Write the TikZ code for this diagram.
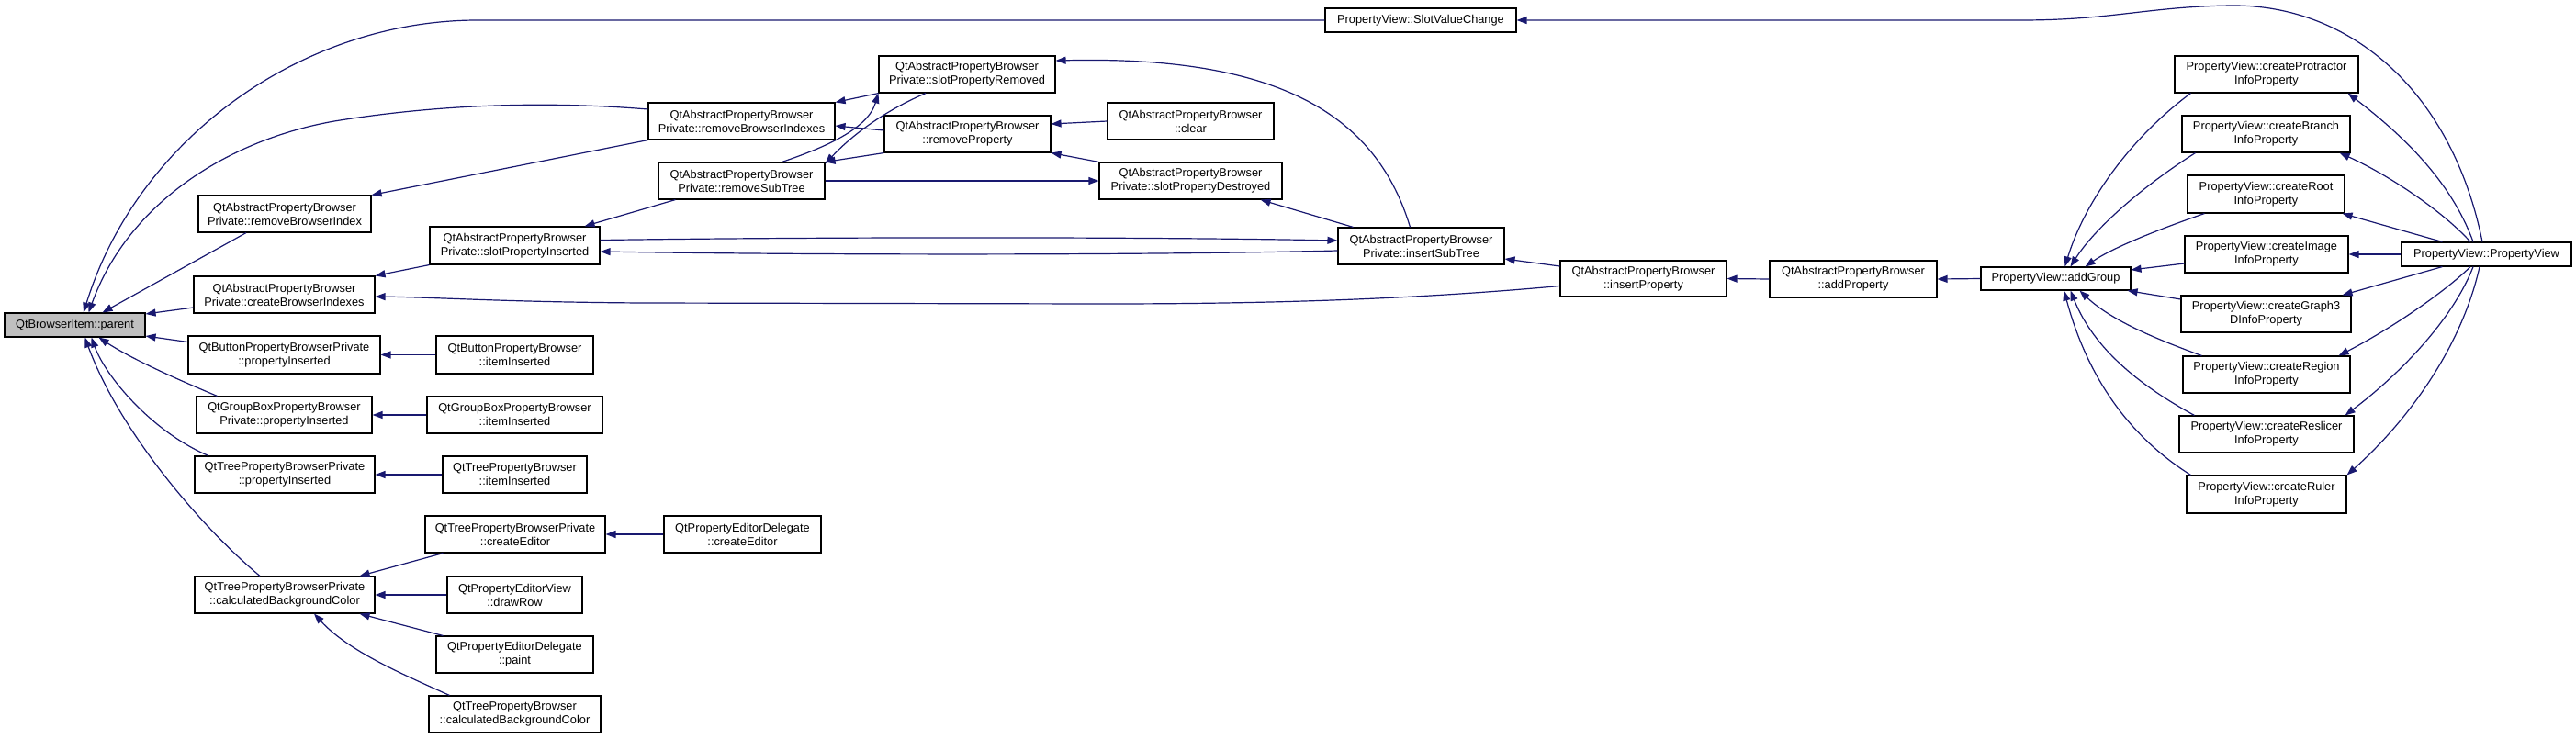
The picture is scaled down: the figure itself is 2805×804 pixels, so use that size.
\documentclass[tikz,border=0pt]{standalone}
\usepackage{fontspec}
\setmainfont{Liberation Sans}
\usetikzlibrary{arrows.meta}
\definecolor{edgeblue}{RGB}{25,25,112}
\definecolor{hilite}{RGB}{191,191,191}
\begin{document}
\begin{tikzpicture}[x=1pt,y=-1pt,
  box/.style={draw=black, line width=1.1pt, fill=white, inner sep=0pt, align=center,
    font=\fontsize{12.8}{15}\selectfont},
  e/.style={draw=edgeblue, line width=1.2pt, -{Triangle[length=11pt,width=8pt]}}]
\useasboundingbox (0,0) rectangle (2805,804);
\fill[white] (0,0) rectangle (2805,804);
% column 0
\node[box, fill=hilite, minimum width=153pt, minimum height=26pt] (parent) at (81.5,354) {QtBrowserItem::parent};
% column 1
\node[box, minimum width=188pt, minimum height=40pt] (rBI) at (310,233) {QtAbstractPropertyBrowser\\Private::removeBrowserIndex};
\node[box, minimum width=197pt, minimum height=40pt] (cBIs) at (309.5,321) {QtAbstractPropertyBrowser\\Private::createBrowserIndexes};
\node[box, minimum width=209pt, minimum height=41pt] (bPI) at (309.5,386.5) {QtButtonPropertyBrowserPrivate\\::propertyInserted};
\node[box, minimum width=191pt, minimum height=40pt] (gPI) at (309.5,452) {QtGroupBoxPropertyBrowser\\Private::propertyInserted};
\node[box, minimum width=196pt, minimum height=40pt] (tPI) at (310,517) {QtTreePropertyBrowserPrivate\\::propertyInserted};
\node[box, minimum width=196pt, minimum height=40pt] (calc) at (310,648) {QtTreePropertyBrowserPrivate\\::calculatedBackgroundColor};
% column 2
\node[box, minimum width=185pt, minimum height=41pt] (sPI) at (560.5,267.5) {QtAbstractPropertyBrowser\\Private::slotPropertyInserted};
\node[box, minimum width=171pt, minimum height=41pt] (bII) at (560.5,386.5) {QtButtonPropertyBrowser\\::itemInserted};
\node[box, minimum width=191pt, minimum height=40pt] (gII) at (560.5,452) {QtGroupBoxPropertyBrowser\\::itemInserted};
\node[box, minimum width=157pt, minimum height=40pt] (tII) at (560.5,517) {QtTreePropertyBrowser\\::itemInserted};
\node[box, minimum width=196pt, minimum height=40pt] (tCE) at (561,582) {QtTreePropertyBrowserPrivate\\::createEditor};
\node[box, minimum width=147pt, minimum height=40pt] (drawRow) at (560.5,648) {QtPropertyEditorView\\::drawRow};
\node[box, minimum width=171pt, minimum height=40pt] (paint) at (560.5,713) {QtPropertyEditorDelegate\\::paint};
\node[box, minimum width=187pt, minimum height=40pt] (tCalc) at (560.5,778) {QtTreePropertyBrowser\\::calculatedBackgroundColor};
% column 3
\node[box, minimum width=203pt, minimum height=40pt] (rBIs) at (807.5,132) {QtAbstractPropertyBrowser\\Private::removeBrowserIndexes};
\node[box, minimum width=181pt, minimum height=40pt] (rST) at (807.5,197) {QtAbstractPropertyBrowser\\Private::removeSubTree};
\node[box, minimum width=171pt, minimum height=40pt] (dCE) at (808.5,582) {QtPropertyEditorDelegate\\::createEditor};
% column 4
\node[box, minimum width=192pt, minimum height=40pt] (sPR) at (1053,81) {QtAbstractPropertyBrowser\\Private::slotPropertyRemoved};
\node[box, minimum width=181pt, minimum height=40pt] (rP) at (1053.5,146) {QtAbstractPropertyBrowser\\::removeProperty};
% column 5
\node[box, minimum width=181pt, minimum height=40pt] (clear) at (1296.5,132) {QtAbstractPropertyBrowser\\::clear};
\node[box, minimum width=199pt, minimum height=40pt] (sPD) at (1296.5,197) {QtAbstractPropertyBrowser\\Private::slotPropertyDestroyed};
% column 6
\node[box, minimum width=208pt, minimum height=26pt] (SVC) at (1547,22) {PropertyView::SlotValueChange};
\node[box, minimum width=181pt, minimum height=40pt] (iST) at (1547.5,268) {QtAbstractPropertyBrowser\\Private::insertSubTree};
% columns 7-9
\node[box, minimum width=181pt, minimum height=39pt] (iP) at (1789.5,303.5) {QtAbstractPropertyBrowser\\::insertProperty};
\node[box, minimum width=182pt, minimum height=40pt] (aP) at (2018,304) {QtAbstractPropertyBrowser\\::addProperty};
\node[box, minimum width=163pt, minimum height=25pt] (aG) at (2238.5,303.5) {PropertyView::addGroup};
% column 10
\node[box, minimum width=200pt, minimum height=40pt] (cProt) at (2468,81) {PropertyView::createProtractor\\InfoProperty};
\node[box, minimum width=183pt, minimum height=40pt] (cBranch) at (2467.5,146) {PropertyView::createBranch\\InfoProperty};
\node[box, minimum width=171pt, minimum height=41pt] (cRoot) at (2467.5,211.5) {PropertyView::createRoot\\InfoProperty};
\node[box, minimum width=178pt, minimum height=40pt] (cImage) at (2468,277) {PropertyView::createImage\\InfoProperty};
\node[box, minimum width=185pt, minimum height=40pt] (cGraph) at (2467.5,342) {PropertyView::createGraph3\\DInfoProperty};
\node[box, minimum width=182pt, minimum height=40pt] (cRegion) at (2468,408) {PropertyView::createRegion\\InfoProperty};
\node[box, minimum width=190pt, minimum height=40pt] (cReslicer) at (2468,473) {PropertyView::createReslicer\\InfoProperty};
\node[box, minimum width=174pt, minimum height=41pt] (cRuler) at (2468,538.5) {PropertyView::createRuler\\InfoProperty};
% column 11
\node[box, minimum width=185pt, minimum height=26pt] (PV) at (2707.5,277) {PropertyView::PropertyView};

% edges into parent
\draw[e] (SVC.west) -- (520,22) .. controls (330,22) and (150,150) .. ([xshift=9.5pt]parent.north);
\draw[e] ([yshift=13pt]rBIs.west) .. controls (620,112) and (500,110) .. (364,132) .. controls (250,152) and (140,220) .. ([xshift=15pt]parent.north);
\draw[e] ([xshift=-42pt]rBI.south) -- ([xshift=30pt]parent.north);
\draw[e] ([yshift=-14pt]cBIs.west) -- ([yshift=12pt]parent.east);
\draw[e] ([yshift=14pt]bPI.west) -- ([yshift=-12pt]parent.east);
\draw[e] ([xshift=-73pt]gPI.north) .. controls (195,414) and (145,392) .. ([xshift=26pt]parent.south);
\draw[e] ([xshift=-83pt]tPI.north) .. controls (165,470) and (115,410) .. ([xshift=18pt]parent.south);
\draw[e] ([xshift=-27pt]calc.north) .. controls (220,575) and (130,470) .. ([xshift=11pt]parent.south);
% column 1 callers
\draw[e] (rBIs.south west) -- (rBI.north east);
\draw[e] (sPI.south west) -- (cBIs.north east);
\draw[e] ([yshift=-8pt]iP.west) .. controls (1550,325) and (1400,331) .. (1200,331) -- (700,330) .. controls (550,329) and (480,324) .. ([yshift=-2pt]cBIs.east);
\draw[e] (bII.west) -- (bPI.east);
\draw[e] (gII.west) -- (gPI.east);
\draw[e] (tII.west) -- (tPI.east);
\draw[e] ([xshift=20pt]tCE.south west) -- ([xshift=-17pt]calc.north east);
\draw[e] (drawRow.west) -- (calc.east);
\draw[e] ([xshift=8pt]paint.north west) -- ([xshift=-17pt]calc.south east);
\draw[e] ([xshift=23pt]tCalc.north west) .. controls (440,735) and (380,710) .. ([xshift=32pt]calc.south);
\draw[e] (dCE.west) -- (tCE.east);
% slotPropertyInserted
\draw[e] ([xshift=19pt]rST.south west) -- ([xshift=-17pt]sPI.north east);
\draw[e] ([yshift=6pt]sPI.east) .. controls (900,258) and (1250,258) .. ([yshift=6pt]iST.west);
\draw[e] ([yshift=-5pt]iST.west) .. controls (1250,278) and (900,278) .. ([yshift=-6.5pt]sPI.east);
% removeBrowserIndexes / removeSubTree
\draw[e] (sPR.south west) -- (rBIs.north east);
\draw[e] ([yshift=4pt]rP.west) -- ([yshift=-5pt]rBIs.east);
\draw[e] (rP.south west) -- (rST.north east);
\draw[e] ([xshift=-45pt]sPR.south) .. controls (960,122) and (925,150) .. ([yshift=-2pt]rST.north east);
\draw[e] ([xshift=44pt]rST.north) .. controls (900,160) and (945,140) .. (sPR.south west);
% removeProperty / slotPropertyDestroyed
\draw[e] (clear.west) -- ([yshift=11pt]rP.east);
\draw[e] (sPD.north west) -- (rP.south east);
\draw[e] (rST.east) -- (sPD.west);
\draw[e] ([xshift=17pt]iST.north west) -- ([xshift=-24pt]sPD.south east);
\draw[e] ([xshift=-12pt]iST.north) .. controls (1500,130) and (1400,60) .. ([yshift=15pt]sPR.east);
% insert chain
\draw[e] ([yshift=13.5pt]iP.west) -- ([yshift=-14pt]iST.east);
\draw[e] (aP.west) -- (iP.east);
\draw[e] (aG.west) -- (aP.east);
% create* -> addGroup
\draw[e] ([xshift=18pt]cProt.south west) .. controls (2320,150) and (2270,220) .. ([xshift=10pt]aG.north);
\draw[e] ([xshift=15pt]cBranch.south west) .. controls (2330,205) and (2280,250) .. ([xshift=16pt]aG.north);
\draw[e] ([xshift=19pt]cRoot.south west) .. controls (2350,250) and (2300,270) .. ([xshift=32pt]aG.north);
\draw[e] ([yshift=-10pt]cImage.west) -- ([yshift=9.5pt]aG.east);
\draw[e] ([yshift=16pt]cGraph.west) -- ([xshift=-4pt]aG.south east);
\draw[e] ([xshift=21pt]cRegion.north west) .. controls (2350,370) and (2300,350) .. ([xshift=26pt]aG.south);
\draw[e] ([xshift=17pt]cReslicer.north west) .. controls (2330,420) and (2280,380) .. ([xshift=16pt]aG.south);
\draw[e] ([xshift=5pt]cRuler.north west) .. controls (2310,470) and (2270,400) .. ([xshift=9pt]aG.south);
% PropertyView -> create*
\draw[e] ([xshift=-14.5pt]PV.north) .. controls (2670,200) and (2620,150) .. ([xshift=-12pt]cProt.south east);
\draw[e] ([xshift=-17.5pt]PV.north) .. controls (2660,230) and (2600,190) .. ([xshift=-12pt]cBranch.south east);
\draw[e] ([xshift=45pt]PV.north west) -- ([xshift=-3pt]cRoot.south east);
\draw[e] (PV.west) -- (cImage.east);
\draw[e] ([xshift=45pt]PV.south west) -- ([xshift=-10pt]cGraph.north east);
\draw[e] ([xshift=-17.5pt]PV.south) .. controls (2660,320) and (2600,360) .. ([xshift=-13pt]cRegion.north east);
\draw[e] ([xshift=-14.5pt]PV.south) .. controls (2670,350) and (2610,410) .. ([xshift=-10pt]cReslicer.north east);
\draw[e] ([xshift=-7.5pt]PV.south) .. controls (2680,380) and (2620,460) .. (cRuler.north east);
\draw[e] ([xshift=-4.5pt]PV.north) .. controls (2670,100) and (2560,5) .. (2430,6) .. controls (2340,7) and (2300,22) .. (2200,22) -- (SVC.east);
\end{tikzpicture}
\end{document}
